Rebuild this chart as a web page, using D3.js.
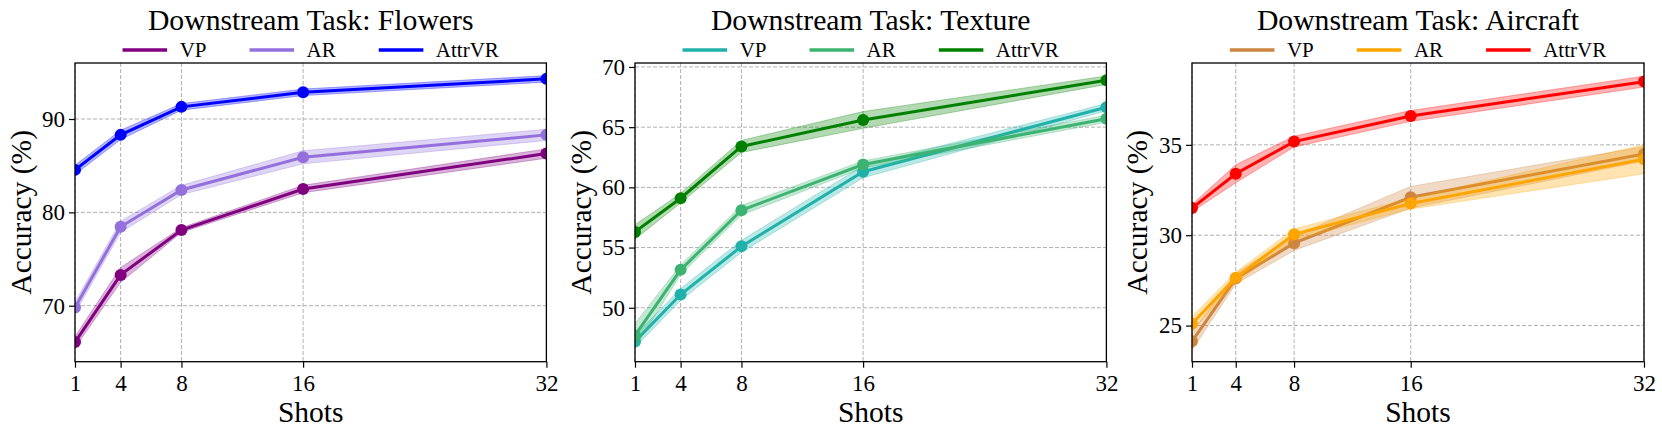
<!DOCTYPE html>
<html>
<head>
<meta charset="utf-8">
<script src="https://cdn.jsdelivr.net/npm/d3@7"></script>
<style>
  html, body { margin: 0; padding: 0; background: #fff; }
  svg { display: block; }
  text { font-family: "Liberation Serif", "Times New Roman", serif; fill: #000; }
</style>
</head>
<body>
<svg id="chart" width="1662" height="432"></svg>
<script>
// ---------------- DATA ----------------
const shots = [1, 4, 8, 16, 32];
const methods = ["VP", "AR", "AttrVR"];
const tasks = ["Flowers", "Texture", "Aircraft"];

const flowersVP      = [66.1, 73.3, 78.1, 82.5, 86.3];
const flowersVPStd   = [0.6, 0.8, 0.25, 0.4, 0.5];
const flowersAR      = [69.8, 78.45, 82.4, 85.9, 88.3];
const flowersARStd   = [0.6, 0.6, 0.5, 0.7, 0.6];
const flowersAttr    = [84.55, 88.3, 91.3, 92.86, 94.3];
const flowersAttrStd = [0.5, 0.5, 0.35, 0.35, 0.35];

const textureVP      = [47.2, 51.1, 55.1, 61.3, 66.66];
const textureVPStd   = [0.5, 0.5, 0.5, 0.5, 0.3];
const textureAR      = [47.7, 53.15, 58.1, 61.9, 65.7];
const textureARStd   = [1.0, 0.4, 0.4, 0.3, 0.3];
const textureAttr    = [56.3, 59.1, 63.4, 65.6, 68.9];
const textureAttrStd = [0.6, 0.4, 0.5, 0.7, 0.35];

const aircraftVP      = [24.13, 27.6, 29.56, 32.1, 34.5];
const aircraftVPStd   = [0.5, 0.3, 0.4, 0.6, 0.4];
const aircraftAR      = [25.1, 27.65, 30.05, 31.75, 34.2];
const aircraftARStd   = [0.4, 0.3, 0.3, 0.3, 0.8];
const aircraftAttr    = [31.5, 33.4, 35.18, 36.6, 38.5];
const aircraftAttrStd = [0.2, 0.5, 0.3, 0.3, 0.3];

const flowersColors  = ["#800080", "#9370DB", "#0000FF"];
const textureColors  = ["#20B2AA", "#3CB371", "#008000"];
const aircraftColors = ["#CD853F", "#FFA500", "#FF0000"];

const flowersYTicks  = [70, 80, 90];
const textureYTicks  = [50, 55, 60, 65, 70];
const aircraftYTicks = [25, 30, 35];

const flowersYDomain  = [64.0, 96.0];
const textureYDomain  = [45.52, 70.33];
const aircraftYDomain = [23.0, 39.53];

const xTickLabels = ["1", "4", "8", "16", "32"];
const titlePrefix = "Downstream Task: ";
const xLabel = "Shots";
const yLabel = "Accuracy (%)";

// ---------------- LAYOUT ----------------
const panelLefts  = [75, 635, 1192];
const panelRights = [546.4, 1106.4, 1644];
const plotTop = 63, plotBottom = 361.7;
const yLabelX = [31, 591, 1147];

const panels = [
  { name: tasks[0], colors: flowersColors, yTicks: flowersYTicks, yDomain: flowersYDomain,
    series: [[flowersVP, flowersVPStd], [flowersAR, flowersARStd], [flowersAttr, flowersAttrStd]] },
  { name: tasks[1], colors: textureColors, yTicks: textureYTicks, yDomain: textureYDomain,
    series: [[textureVP, textureVPStd], [textureAR, textureARStd], [textureAttr, textureAttrStd]] },
  { name: tasks[2], colors: aircraftColors, yTicks: aircraftYTicks, yDomain: aircraftYDomain,
    series: [[aircraftVP, aircraftVPStd], [aircraftAR, aircraftARStd], [aircraftAttr, aircraftAttrStd]] }
];

const svg = d3.select("#chart");

panels.forEach((p, pi) => {
  const x0 = panelLefts[pi], x1 = panelRights[pi];
  const x = d3.scaleLinear().domain([1, 32]).range([x0, x1]);
  const y = d3.scaleLinear().domain(p.yDomain).range([plotBottom, plotTop]);
  const g = svg.append("g");

  const clipId = "clip" + pi;
  svg.append("defs").append("clipPath").attr("id", clipId)
    .append("rect").attr("x", x0).attr("y", plotTop)
    .attr("width", x1 - x0).attr("height", plotBottom - plotTop);

  // grid
  const grid = g.append("g");
  grid.selectAll("line.gx").data(shots).enter().append("line")
    .attr("x1", d => x(d)).attr("x2", d => x(d))
    .attr("y1", plotTop).attr("y2", plotBottom)
    .attr("stroke", "#b0b0b0").attr("stroke-width", 1).attr("stroke-dasharray", "4,2");
  grid.selectAll("line.gy").data(p.yTicks).enter().append("line")
    .attr("x1", x0).attr("x2", x1)
    .attr("y1", d => y(d)).attr("y2", d => y(d))
    .attr("stroke", "#b0b0b0").attr("stroke-width", 1).attr("stroke-dasharray", "4,2");

  // series
  const plot = g.append("g").attr("clip-path", `url(#${clipId})`);
  p.series.forEach((s, si) => {
    const vals = s[0], std = s[1], col = p.colors[si];
    const pts = shots.map((d, i) => ({ x: d, y: vals[i], lo: vals[i] - std[i], hi: vals[i] + std[i] }));
    const area = d3.area().x(d => x(d.x)).y0(d => y(d.lo)).y1(d => y(d.hi));
    plot.append("path").attr("d", area(pts))
      .attr("fill", col).attr("fill-opacity", 0.3)
      .attr("stroke", col).attr("stroke-opacity", 0.3).attr("stroke-width", 1);
    const line = d3.line().x(d => x(d.x)).y(d => y(d.y));
    plot.append("path").attr("d", line(pts))
      .attr("fill", "none").attr("stroke", col).attr("stroke-width", 3);
    plot.selectAll(null).data(pts).enter().append("circle")
      .attr("cx", d => x(d.x)).attr("cy", d => y(d.y)).attr("r", 6)
      .attr("fill", col);
  });

  // axes
  const xAxis = d3.axisBottom(x).tickValues(shots).tickFormat((d, i) => xTickLabels[i])
    .tickSizeInner(6).tickSizeOuter(0).tickPadding(5);
  const gx = g.append("g").attr("transform", `translate(0,${plotBottom})`).call(xAxis);
  const yAxis = d3.axisLeft(y).tickValues(p.yTicks).tickFormat(d3.format("d"))
    .tickSizeInner(6).tickSizeOuter(0).tickPadding(4);
  const gy = g.append("g").attr("transform", `translate(${x0},0)`).call(yAxis);
  [gx, gy].forEach(a => {
    a.select(".domain").remove();
    a.selectAll(".tick line").attr("stroke", "#000").attr("stroke-width", 1.2);
    a.selectAll(".tick text").attr("font-family", "Liberation Serif").attr("font-size", 23).attr("fill", "#000");
  });
  gx.selectAll(".tick text").attr("dy", null).attr("y", 29.5);

  // frame
  g.append("rect").attr("x", x0).attr("y", plotTop)
    .attr("width", x1 - x0).attr("height", plotBottom - plotTop)
    .attr("fill", "none").attr("stroke", "#000").attr("stroke-width", 1.3);

  const cx = (x0 + x1) / 2;
  // title
  g.append("text").attr("x", cx).attr("y", 29.5).attr("text-anchor", "middle")
    .attr("font-size", 29.7).text(titlePrefix + p.name);
  // x label
  g.append("text").attr("x", cx).attr("y", 422).attr("text-anchor", "middle")
    .attr("font-size", 29.5).text(xLabel);
  // y label
  g.append("text").attr("transform", `translate(${yLabelX[pi]},${(plotTop + plotBottom) / 2}) rotate(-90)`)
    .attr("text-anchor", "middle").attr("font-size", 29.5).text(yLabel);

  // legend
  const lg = g.append("g");
  const lineLen = 44.6, gap = 12.5, colSpace = 43, fs = 21;
  const items = methods.map((m, i) => {
    const t = lg.append("text").attr("font-size", fs).attr("y", 57.3).text(m);
    return { t, w: t.node().getComputedTextLength(), col: p.colors[i] };
  });
  const total = items.reduce((a, it) => a + lineLen + gap + it.w, 0) + colSpace * (items.length - 1);
  let cur = cx - total / 2;
  items.forEach(it => {
    lg.append("line").attr("x1", cur).attr("x2", cur + lineLen).attr("y1", 50).attr("y2", 50)
      .attr("stroke", it.col).attr("stroke-width", 3.5);
    it.t.attr("x", cur + lineLen + gap);
    cur += lineLen + gap + it.w + colSpace;
  });
});
</script>
</body>
</html>
